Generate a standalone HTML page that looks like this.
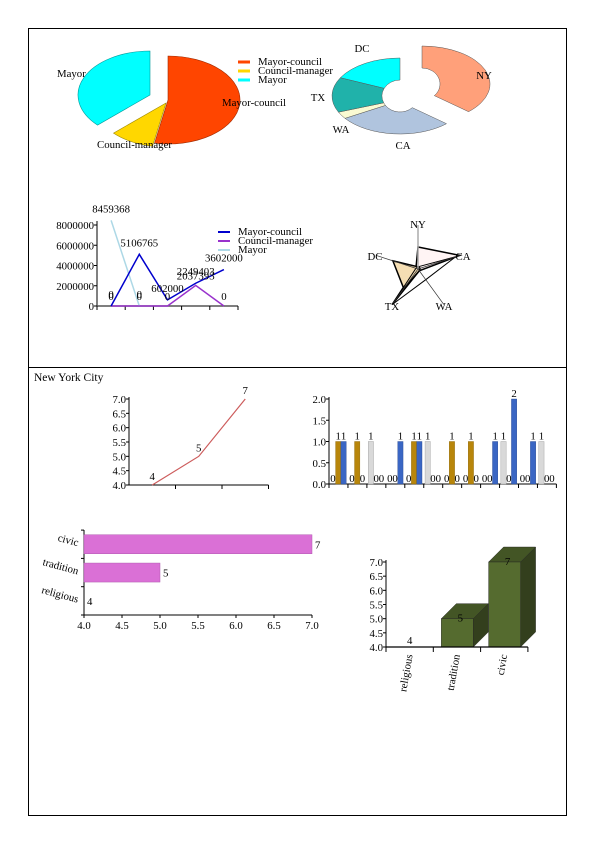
<!DOCTYPE html>
<html><head><meta charset="utf-8"><style>
html,body{margin:0;padding:0;background:#fff}
svg{display:block;font-family:"Liberation Serif",serif;}
text{font-size:10.8px;fill:#000}
</style></head><body>
<svg id="s" width="595" height="842" viewBox="0 0 595 842">
<rect x="28.5" y="28.5" width="538" height="787" fill="none" stroke="#000"/>
<line x1="28" y1="367.5" x2="567" y2="367.5" stroke="#000"/>
<text x="34" y="381" style="font-size:11.5px">New York City</text>
</svg>
<script>
const svg=document.getElementById('s');
const NS='http://www.w3.org/2000/svg';
function mk(tag,attrs,parent){const e=document.createElementNS(NS,tag);for(const k in attrs)e.setAttribute(k,attrs[k]);(parent||svg).appendChild(e);return e;}
function txt(x,y,s,anchor,parent,extra){const t=mk('text',Object.assign({x:x,y:y,'text-anchor':anchor||'start'},extra||{}),parent);t.textContent=s;return t;}

// ---------- data ----------
const pieCats=['Mayor-council','Council-manager','Mayor'];
const pieVals=[53,10,37];
const donutCats=['NY','CA','WA','TX','DC'];
const donutVals=[38,27,3,15,17];
const lineCats=['NY','CA','WA','TX','DC'];
const lineMC=[0,5106765,602000,2249403,3602000];
const lineCM=[0,0,0,2037393,0];
const lineMayor=[8459368,0,null,null,null];
const lineTicks=[0,2000000,4000000,6000000,8000000];
const radarAxes=['NY','CA','WA','TX','DC'];
const radarS1=[0.5,1,0.05,1,0.05];
const radarS2=[0.05,0.05,0.05,0.55,0.6];
const radarS3=[0.05,0.9,0.3,1,0.05];
const nycCats=['religious','tradition','civic'];
const nycVals=[4,5,7];
const nycTicks=[4.0,4.5,5.0,5.5,6.0,6.5,7.0];
const grpGray=[0,0,1,0,0,1,0,0,0,1,0,1];
const grpGold=[1,1,0,0,1,0,1,1,0,0,0,0];
const grpBlue=[1,0,0,1,1,0,0,0,1,2,1,0];
const grpTicks=[0,0.5,1.0,1.5,2.0];

// ---------- pie chart ----------
(function(){
 const g=mk('g',{}); 
 const cx=168,cy=100,rx=72,ry=44;const cols=['#FF4500','#FFD700','#00FFFF'];const strokes=['#a02a00','#a08800','#009999'];
 const offs=[[0,0],[-2,3],[-18,-5]];
 const tot=pieVals.reduce((a,b)=>a+b,0);let a0=0;
 const labPos=[[222,106,'start'],[97,148,'start'],[57,77,'start']];
 pieVals.forEach((v,i)=>{const a1=a0+v/tot*2*Math.PI;const ox=cx+offs[i][0],oy=cy+offs[i][1];
  const p=t=>[ox+rx*Math.sin(t),oy-ry*Math.cos(t)];const s=p(a0),e=p(a1);
  const path=mk('path',{d:`M${ox},${oy}L${s[0]},${s[1]}A${rx},${ry} 0 ${(a1-a0)>Math.PI?1:0} 1 ${e[0]},${e[1]}Z`,fill:cols[i],stroke:strokes[i],'stroke-width':0.6},g);
  
  const l=txt(labPos[i][0],labPos[i][1],pieCats[i],labPos[i][2],g);
  a0=a1;});
 pieCats.forEach((c,i)=>{const y=62+i*9;const sw=mk('line',{x1:238,y1:y,x2:250,y2:y,stroke:cols[i],'stroke-width':3},g);
  
  const t=txt(258,y+3,c,'start',g);});
})();

// ---------- donut ----------
(function(){
 const g=mk('g',{}); 
 const cx=400,cy=96,rx=68,ry=38,hx=18,hy=16;const cols=['#FFA07A','#B0C4DE','#FAFAD2','#20B2AA','#00FFFF'];
 const offs=[[22,-12],[0,0],[0,0],[0,0],[0,0]];
 const labs=[[484,79],[403,149],[341,133],[318,101],[362,52]];
 const tot=donutVals.reduce((a,b)=>a+b,0);let a0=0;
 donutVals.forEach((v,i)=>{const a1=a0+v/tot*2*Math.PI;const ox=cx+offs[i][0],oy=cy+offs[i][1];
  const P=(t,a,b)=>[ox+a*Math.sin(t),oy-b*Math.cos(t)];const lg=(a1-a0)>Math.PI?1:0;
  const s=P(a0,rx,ry),e=P(a1,rx,ry),hs=P(a1,hx,hy),he=P(a0,hx,hy);
  const path=mk('path',{d:`M${s[0]},${s[1]}A${rx},${ry} 0 ${lg} 1 ${e[0]},${e[1]}L${hs[0]},${hs[1]}A${hx},${hy} 0 ${lg} 0 ${he[0]},${he[1]}Z`,fill:cols[i],stroke:'#555','stroke-width':0.5},g);
  
  const t=txt(labs[i][0],labs[i][1],donutCats[i],'middle',g);
  a0=a1;});
})();

// ---------- population line chart ----------
(function(){
 const g=mk('g',{}); 
 const x0=97,y0=306,bw=28.2,ymax=8000000,h=81;
 const X=i=>x0+bw*(i+0.5),Y=v=>y0-v/ymax*h;
 mk('line',{x1:x0,y1:y0-85,x2:x0,y2:y0,stroke:'#000'},g);
 mk('line',{x1:x0,y1:y0,x2:x0+bw*5,y2:y0,stroke:'#555','stroke-width':1.5},g);
 for(let i=0;i<=5;i++)mk('line',{x1:x0+bw*i,y1:y0,x2:x0+bw*i,y2:y0+4,stroke:'#000'},g);
 lineTicks.forEach(v=>{mk('line',{x1:x0-3,y1:Y(v),x2:x0,y2:Y(v),stroke:'#000'},g);const t=txt(x0-3,Y(v)+4,String(v),'end',g);});
 const series=[[lineMayor,'#ADD8E6','mayor'],[lineCM,'#9932CC','council-manager'],[lineMC,'#0000CD','mayor-council']];
 series.forEach(([d,c,n])=>{let pts=[];d.forEach((v,i)=>{if(v!==null)pts.push(X(i)+','+Y(v));});
  const pl=mk('polyline',{points:pts.join(' '),fill:'none',stroke:c,'stroke-width':1.5},g);});
 [[lineMC,0],[lineCM,2],[lineMayor,0]].forEach(([d,dy])=>d.forEach((v,i)=>{if(v===null)return;const t=txt(X(i),Y(v)-8+dy,String(v),'middle',g);}));
 const lc=[['Mayor-council','#0000CD'],['Council-manager','#9932CC'],['Mayor','#ADD8E6']];
 lc.forEach(([n,c],i)=>{const y=232+i*9;const sw=mk('line',{x1:218,y1:y,x2:230,y2:y,stroke:c,'stroke-width':2},g);
  const t=txt(238,y+3,n,'start',g);});
})();

// ---------- radar ----------
(function(){
 const g=mk('g',{}); 
 const cx=418,cy=269,R=44;const ang=i=>i*2*Math.PI/radarAxes.length;
 const P=(i,f)=>[cx+R*f*Math.sin(ang(i)),cy-R*f*Math.cos(ang(i))];
 [[radarS1,'#fff4f4'],[radarS2,'#F5DEB3'],[radarS3,'none']].forEach(([d,f],k)=>{
  const pg=mk('polygon',{points:d.map((v,i)=>P(i,v).join(',')).join(' '),fill:f,stroke:'#000','stroke-width':k==2?1:1.5},g);});
 const lp=[[418,228],[463,260],[444,310],[392,310],[375,260]];
 radarAxes.forEach((a,i)=>{const e=P(i,1);mk('line',{x1:cx,y1:cy,x2:e[0],y2:e[1],stroke:i==0?'#aaa':'#333','stroke-width':i==0?1.5:0.7},g);
  const t=txt(lp[i][0],lp[i][1],a,'middle',g);});
})();

// ---------- NYC line ----------
(function(){
 const g=mk('g',{}); 
 const x0=129,y0=485,bw=46.5,h=86;const X=i=>x0+bw*(i+0.5),Y=v=>y0-(v-4)/3*h;
 mk('line',{x1:x0,y1:y0-88,x2:x0,y2:y0,stroke:'#000'},g);
 mk('line',{x1:x0,y1:y0,x2:x0+bw*3,y2:y0,stroke:'#000'},g);
 for(let i=1;i<=3;i++)mk('line',{x1:x0+bw*i,y1:y0,x2:x0+bw*i,y2:y0+4,stroke:'#000'},g);
 nycTicks.forEach(v=>{mk('line',{x1:x0-3,y1:Y(v),x2:x0,y2:Y(v),stroke:'#000'},g);const t=txt(x0-3,Y(v)+4,v.toFixed(1),'end',g);});
 const pl=mk('polyline',{points:nycVals.map((v,i)=>X(i)+','+Y(v)).join(' '),fill:'none',stroke:'#CD5C5C','stroke-width':1.2},g);
 nycVals.forEach((v,i)=>{const t=txt(X(i),Y(v)-5,String(v),'middle',g);});
})();

// ---------- grouped bars ----------
(function(){
 const g=mk('g',{}); 
 const x0=329,y0=484,gw=18.95,h=85,bw=5.3;const Y=v=>y0-v/2*h;
 mk('line',{x1:x0,y1:y0-87,x2:x0,y2:y0,stroke:'#000'},g);
 mk('line',{x1:x0,y1:y0,x2:x0+gw*12,y2:y0,stroke:'#000'},g);
 for(let i=0;i<=12;i++)mk('line',{x1:x0+gw*i,y1:y0,x2:x0+gw*i,y2:y0+4,stroke:'#000'},g);
 grpTicks.forEach(v=>{mk('line',{x1:x0-3,y1:Y(v),x2:x0,y2:Y(v),stroke:'#000'},g);const t=txt(x0-3,Y(v)+4,v.toFixed(1),'end',g);});
 const ser=[[grpGray,'#D9D9D9','#999'],[grpGold,'#B8860B','#8a6508'],[grpBlue,'#3A66C4','#2a4a90']];
 for(let gi=0;gi<12;gi++){ser.forEach(([d,c,s],k)=>{const v=d[gi];const x=x0+gw*gi+1.3+k*bw;
  if(v>0){const r=mk('rect',{x:x,y:Y(v),width:bw,height:y0-Y(v),fill:c,stroke:s,'stroke-width':0.4},g);}
  const t=txt(x+bw/2,Y(v)-2,String(v),'middle',g);});}
})();

// ---------- horizontal bars ----------
(function(){
 const g=mk('g',{}); 
 const x0=84,y0=615,w=228,bh=28.3;const X=v=>x0+(v-4)/3*w;
 mk('line',{x1:x0,y1:530,x2:x0,y2:y0,stroke:'#000'},g);
 mk('line',{x1:x0,y1:y0,x2:x0+w,y2:y0,stroke:'#000'},g);
 for(let i=0;i<=3;i++)mk('line',{x1:x0-3,y1:y0-bh*i,x2:x0,y2:y0-bh*i,stroke:'#000'},g);
 nycTicks.forEach(v=>{mk('line',{x1:X(v),y1:y0,x2:X(v),y2:y0+3,stroke:'#000'},g);const t=txt(X(v),y0+14,v.toFixed(1),'middle',g);});
 nycCats.forEach((c,i)=>{const yc=y0-bh*(i+0.5);
  if(nycVals[i]>4){const r=mk('rect',{x:x0,y:yc-9.5,width:X(nycVals[i])-x0,height:19,fill:'#DA70D6',stroke:'#b05ab0','stroke-width':0.5},g);}
  const v=txt(X(nycVals[i])+3,yc+4,String(nycVals[i]),'start',g);
  const l=txt(78,yc+2,c,'end',g,{transform:`rotate(15 78 ${yc})`});});
})();

// ---------- 3D bars ----------
(function(){
 const g=mk('g',{}); 
 const x0=386,y0=647,bw=47.3,h=85,d=15;const Y=v=>y0-(v-4)/3*h;
 mk('line',{x1:x0,y1:y0-87,x2:x0,y2:y0,stroke:'#000'},g);
 nycTicks.forEach(v=>{mk('line',{x1:x0-3,y1:Y(v),x2:x0,y2:Y(v),stroke:'#000'},g);const t=txt(x0-3,Y(v)+4,v.toFixed(1),'end',g);});
 nycCats.forEach((c,i)=>{const xl=x0+bw*i+8,w=32,top=Y(nycVals[i]);
  if(nycVals[i]>4){
   const s=mk('polygon',{points:`${xl+w},${top} ${xl+w+d},${top-d} ${xl+w+d},${y0-d} ${xl+w},${y0}`,fill:'#333f1d',stroke:'#222','stroke-width':0.4},g);
   const tp=mk('polygon',{points:`${xl},${top} ${xl+d},${top-d} ${xl+w+d},${top-d} ${xl+w},${top}`,fill:'#435525',stroke:'#222','stroke-width':0.4},g);
   const f=mk('rect',{x:xl,y:top,width:w,height:y0-top,fill:'#556B2F',stroke:'#222','stroke-width':0.4},g);}
  const big=nycVals[i]>4;
  const v=txt(big?xl+w/2+3:x0+bw*(i+0.5),big?top+3:top-3,String(nycVals[i]),'middle',g);
  const xc=x0+bw*(i+0.5);const l=txt(xc+3,y0+8,c,'end',g,{transform:`rotate(-80 ${xc+3} ${y0+8})`});});
 mk('line',{x1:x0,y1:y0,x2:x0+bw*3,y2:y0,stroke:'#000','stroke-width':1.2},g);
 for(let i=0;i<=3;i++)mk('line',{x1:x0+bw*i,y1:y0,x2:x0+bw*i,y2:y0+5,stroke:'#000'},g);
})();
</script>
</body></html>
